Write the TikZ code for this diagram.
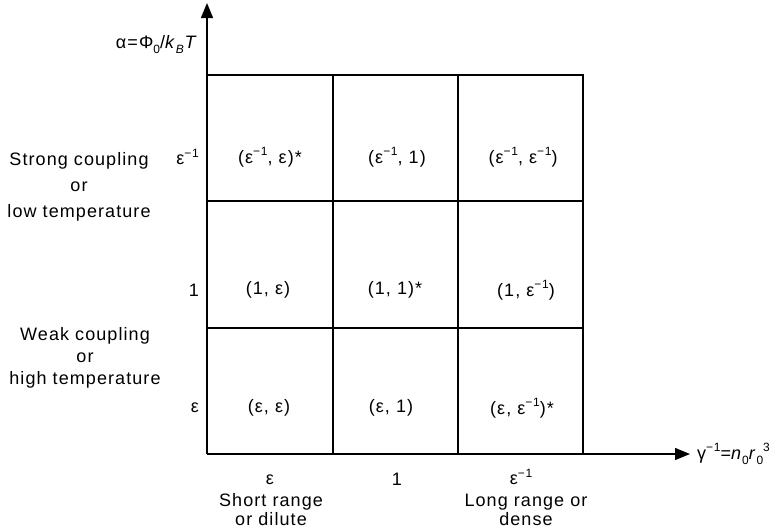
\documentclass[tikz,border=0pt]{standalone}
\usepackage{fontspec}
\setmainfont{Liberation Sans}[LetterSpace=6]
\usetikzlibrary{arrows.meta}
\newcommand\myup[1]{\raisebox{0.42em}{\fontsize{12}{12}\selectfont #1}}
\newcommand\mydn[1]{\raisebox{-0.28em}{\fontsize{12}{12}\selectfont #1}}
\begin{document}
\begin{tikzpicture}[x=1pt,y=-1pt,
  lab/.style={font=\fontsize{18}{26}\selectfont, inner sep=0pt, align=center},
  lab2/.style={font=\fontsize{18}{22}\selectfont, inner sep=0pt, align=center},
  botlab/.style={font=\fontsize{18}{19}\selectfont, inner sep=0pt, align=center},
  cell/.style={font=\fontsize{18}{22}\selectfont, inner sep=0pt},
  gridline/.style={line width=1.5pt},
  axis/.style={line width=1.4pt,-{Triangle[length=15pt,width=12pt]}}]
\useasboundingbox (0,0) rectangle (777,531);
% axes
\coordinate (O) at (207,454);
\coordinate (ytip) at (207,3);
\coordinate (xtip) at (690,454);
\draw[axis] (O) -- (ytip);
\draw[axis] (O) -- (xtip);
% grid
\draw[gridline] (207,75) -- (583,75) -- (583,454);
\draw[gridline] (333,75) -- (333,454);
\draw[gridline] (458,75) -- (458,454);
\draw[gridline] (207,201) -- (583,201);
\draw[gridline] (207,328) -- (583,328);
% axis labels
\node[cell,anchor=east] (alab) at (198,45) {α=Φ\mydn{0}/\textit{k}\mydn{\textit{B}}\textit{T}};
\node[cell,anchor=west] (glab) at (697,454) {γ\myup{−1}=\textit{n}\mydn{0}\textit{r}\mydn{0}\myup{3}};
% row labels
\node[cell,anchor=east] (r1) at (199,157) {ε\myup{−1}};
\node[cell,anchor=east] (r2) at (199,290) {1};
\node[cell,anchor=east] (r3) at (199,408) {ε};
\node[lab] (strong) at (79,187) {Strong coupling\\or\\low temperature};
\node[lab2] (weak) at (85,358) {Weak coupling\\or\\high temperature};
% column labels
\node[cell] (c1) at (270,480) {ε};
\node[cell] (c2) at (397,479) {1};
\node[cell] (c3) at (521,477) {ε\myup{−1}};
\node[botlab] (short) at (271,510) {Short range\\or dilute};
\node[botlab] (long) at (526,510) {Long range or\\dense};
% cells
\node[cell] (a11) at (270,157) {(ε\myup{−1}, ε)*};
\node[cell] (a12) at (397,157) {(ε\myup{−1}, 1)};
\node[cell] (a13) at (523,157) {(ε\myup{−1}, ε\myup{−1})};
\node[cell] (a21) at (268,290) {(1, ε)};
\node[cell] (a22) at (395,290) {(1, 1)*};
\node[cell] (a23) at (526,290) {(1, ε\myup{−1})};
\node[cell] (a31) at (269,408) {(ε, ε)};
\node[cell] (a32) at (391,408) {(ε, 1)};
\node[cell] (a33) at (522,408) {(ε, ε\myup{−1})*};
\end{tikzpicture}
\end{document}
